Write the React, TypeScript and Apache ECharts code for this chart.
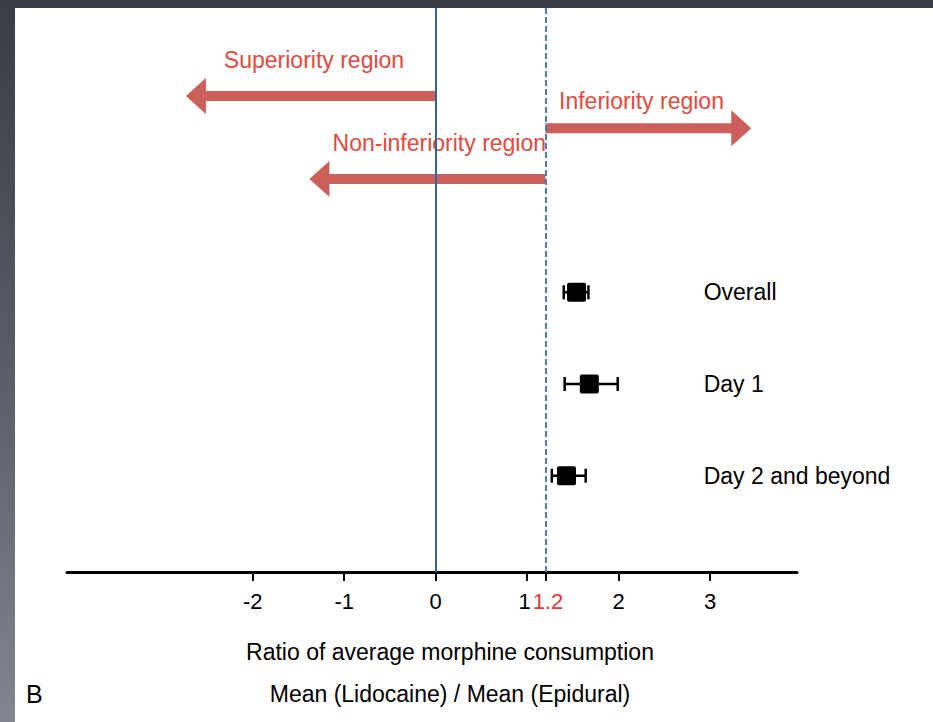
import React, { useEffect, useRef } from "react";
import * as echarts from "echarts";

// ---- data ----
const categories = ["Overall", "Day 1", "Day 2 and beyond"];
const means = [1.54, 1.68, 1.43];
const lower = [1.4, 1.41, 1.27];
const upper = [1.67, 1.99, 1.64];
const xTicks = [-2, -1, 0, 1, 1.2, 2, 3];
const nonInferiorityMargin = 1.2;

const arrowLabels = ["Superiority region", "Inferiority region", "Non-inferiority region"];
const arrowFrom = [0, 1.2, 1.2];
const arrowTo = [-2.73, 3.45, -1.38];

const FONT = "'Liberation Sans Narrow', 'Liberation Sans', Arial, sans-serif";
const ARROW_COLOR = "#cd5f5a";
const ARROW_TEXT = "#e8473b";

export default function App() {
  const ref = useRef<HTMLDivElement>(null);

  useEffect(() => {
    if (!ref.current) return;
    const chart = echarts.init(ref.current, undefined, { renderer: "svg" });

    const rows = [1, 2, 3];
    const arrowRows = [-1.14, -0.79, -0.235];
    const arrowLabelX = [-1.33, 2.25, 0.04];
    const arrowLabelDy = [-36, -27, -36];
    const pointLabelX = 2.93;

    const option: any = {
      animation: false,
      backgroundColor: "transparent",
      grid: { left: 67, right: 136, top: 8, bottom: 150, containLabel: false },
      xAxis: {
        type: "value",
        min: -4.03,
        max: 3.95,
        position: "bottom",
        splitLine: { show: false },
        axisLine: { show: true, onZero: false, lineStyle: { color: "#000", width: 3 } },
        axisTick: { show: true, customValues: xTicks, length: 9, lineStyle: { color: "#000", width: 2 } },
        axisLabel: {
          show: true,
          customValues: xTicks,
          fontSize: 22,
          fontFamily: FONT,
          color: "#000",
          margin: 18,
          formatter: (v: number) => {
            if (v === nonInferiorityMargin) return "{red|1.2}";
            if (v === 1) return "{one|1}";
            return String(v);
          },
          rich: {
            red: { color: "#e8362d", fontSize: 22, fontFamily: FONT, padding: [0, 0, 0, 5] },
            one: { color: "#000", fontSize: 22, fontFamily: FONT, padding: [0, 5, 0, 0] },
          },
        },
      },
      yAxis: { type: "value", inverse: true, min: -2.1, max: 4.05, show: false },
      series: [
        {
          type: "custom",
          name: "arrows",
          clip: false,
          silent: true,
          data: arrowFrom.map((f, i) => [f, arrowTo[i], arrowRows[i], arrowLabelX[i], i]),
          encode: { x: [0, 1, 3], y: 2 },
          renderItem: (params: any, api: any) => {
            const i = api.value(4);
            const s = api.coord([api.value(0), api.value(2)]);
            const e = api.coord([api.value(1), api.value(2)]);
            const lab = api.coord([api.value(3), api.value(2)]);
            const y = s[1];
            const dir = e[0] > s[0] ? 1 : -1;
            const hl = 20, hh = 18, sh = 5;
            const bx = e[0] - dir * hl;
            return {
              type: "group",
              children: [
                {
                  type: "polygon",
                  shape: {
                    points: [
                      [s[0], y - sh], [bx, y - sh], [bx, y - hh], [e[0], y],
                      [bx, y + hh], [bx, y + sh], [s[0], y + sh],
                    ],
                  },
                  style: { fill: ARROW_COLOR },
                },
                {
                  type: "text",
                  x: lab[0],
                  y: y + arrowLabelDy[i],
                  style: {
                    text: arrowLabels[i],
                    fill: ARROW_TEXT,
                    font: `23px ${FONT}`,
                    align: "center",
                    verticalAlign: "middle",
                  },
                },
              ],
            };
          },
        },
        {
          type: "custom",
          name: "estimates",
          clip: false,
          silent: true,
          data: categories.map((c, i) => [means[i], lower[i], upper[i], rows[i], i]),
          encode: { x: [0, 1, 2], y: 3 },
          renderItem: (params: any, api: any) => {
            const i = api.value(4);
            const row = api.value(3);
            const m = api.coord([api.value(0), row]);
            const lo = api.coord([api.value(1), row]);
            const hi = api.coord([api.value(2), row]);
            const lp = api.coord([pointLabelX, row]);
            const y = m[1];
            const cap = 7;
            const sq = 19;
            const ls = { stroke: "#000", lineWidth: 2.5 };
            return {
              type: "group",
              children: [
                { type: "line", shape: { x1: lo[0], y1: y, x2: hi[0], y2: y }, style: ls },
                { type: "line", shape: { x1: lo[0], y1: y - cap, x2: lo[0], y2: y + cap }, style: ls },
                { type: "line", shape: { x1: hi[0], y1: y - cap, x2: hi[0], y2: y + cap }, style: ls },
                {
                  type: "rect",
                  shape: { x: m[0] - sq / 2, y: y - sq / 2, width: sq, height: sq, r: 2 },
                  style: { fill: "#000" },
                },
                {
                  type: "text",
                  x: lp[0],
                  y: y,
                  style: {
                    text: categories[i],
                    fill: "#000",
                    font: `23px ${FONT}`,
                    align: "left",
                    verticalAlign: "middle",
                  },
                },
              ],
            };
          },
          markLine: {
            silent: true,
            symbol: ["none", "none"],
            label: { show: false },
            data: [
              { xAxis: 0, lineStyle: { color: "#2d66a3", width: 2, type: "solid" } },
              { xAxis: nonInferiorityMargin, lineStyle: { color: "#4a7db3", width: 2, type: [6, 3] } },
            ],
          },
        },
      ],
      graphic: [
        {
          type: "text",
          x: 450,
          y: 652,
          style: {
            text: "Ratio of average morphine consumption",
            fill: "#000",
            font: `23px ${FONT}`,
            align: "center",
            verticalAlign: "middle",
          },
        },
        {
          type: "text",
          x: 450,
          y: 694,
          style: {
            text: "Mean (Lidocaine) / Mean (Epidural)",
            fill: "#000",
            font: `23px ${FONT}`,
            align: "center",
            verticalAlign: "middle",
          },
        },
        {
          type: "text",
          x: 26,
          y: 694,
          style: { text: "B", fill: "#000", font: `25px ${FONT}`, align: "left", verticalAlign: "middle" },
        },
      ],
    };

    chart.setOption(option);
    return () => chart.dispose();
  }, []);

  return (
    <div
      style={{
        position: "fixed",
        left: 0,
        top: 0,
        width: 933,
        height: 722,
        background: "linear-gradient(180deg, #383c45 0%, #5b606a 55%, #80858f 100%)",
        overflow: "hidden",
      }}
    >
      <div style={{ position: "absolute", left: 15, top: 8, right: 0, bottom: 0, background: "#fff" }} />
      <div ref={ref} style={{ position: "absolute", left: 0, top: 0, width: 933, height: 722 }} />
    </div>
  );
}
